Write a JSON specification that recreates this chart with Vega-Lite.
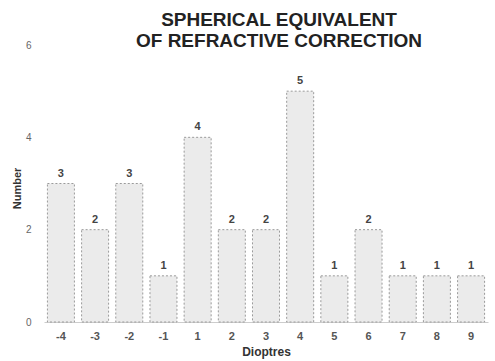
{
  "$schema": "https://vega.github.io/schema/vega-lite/v6.json",
  "width": 444,
  "height": 277,
  "autosize": {"type": "none"},
  "padding": {"left": 44, "top": 45, "right": 7, "bottom": 39},
  "background": "white",
  "title": {
    "text": ["SPHERICAL EQUIVALENT", "OF REFRACTIVE CORRECTION"],
    "font": "Liberation Sans",
    "fontSize": 19,
    "fontWeight": "bold",
    "color": "#222222",
    "anchor": "middle",
    "dx": 13,
    "offset": -11,
    "lineHeight": 21
  },
  "data": {
    "values": [
      {"d": "-4", "n": 3},
      {"d": "-3", "n": 2},
      {"d": "-2", "n": 3},
      {"d": "-1", "n": 1},
      {"d": "1", "n": 4},
      {"d": "2", "n": 2},
      {"d": "3", "n": 2},
      {"d": "4", "n": 5},
      {"d": "5", "n": 1},
      {"d": "6", "n": 2},
      {"d": "7", "n": 1},
      {"d": "8", "n": 1},
      {"d": "9", "n": 1}
    ]
  },
  "encoding": {
    "x": {
      "field": "d",
      "type": "ordinal",
      "sort": null,
      "scale": {"paddingInner": 0.21, "paddingOuter": 0.1},
      "axis": {
        "title": "Dioptres",
        "titleFont": "Liberation Sans",
        "titleFontSize": 12,
        "titleFontWeight": "bold",
        "titleColor": "#333333",
        "titlePadding": 5,
        "labelFont": "Liberation Sans",
        "labelFontSize": 11,
        "labelFontWeight": "bold",
        "labelColor": "#555555",
        "labelAngle": 0,
        "labelPadding": 8,
        "ticks": false,
        "domainColor": "#cccccc",
        "grid": false
      }
    },
    "y": {
      "field": "n",
      "type": "quantitative",
      "scale": {"domain": [0, 6]},
      "axis": {
        "title": "Number",
        "titleFont": "Liberation Sans",
        "titleFontSize": 11,
        "titleFontWeight": "bold",
        "titleColor": "#333333",
        "titleX": -22,
        "titleY": 143,
        "titleAngle": -90,
        "titleBaseline": "bottom",
        "titleAlign": "center",
        "values": [0, 2, 4, 6],
        "labelFont": "Liberation Sans",
        "labelFontSize": 10,
        "labelColor": "#666666",
        "labelPadding": 13,
        "ticks": false,
        "domain": false,
        "grid": false
      }
    }
  },
  "layer": [
    {
      "mark": {
        "type": "bar",
        "fill": "#ebebeb",
        "stroke": "#9a9a9a",
        "strokeWidth": 1,
        "strokeDash": [2, 2]
      }
    },
    {
      "mark": {
        "type": "text",
        "baseline": "bottom",
        "dy": -5,
        "font": "Liberation Sans",
        "fontSize": 11,
        "fontWeight": "bold",
        "color": "#444444"
      },
      "encoding": {"text": {"field": "n", "type": "quantitative"}}
    }
  ],
  "config": {"view": {"stroke": null}}
}
